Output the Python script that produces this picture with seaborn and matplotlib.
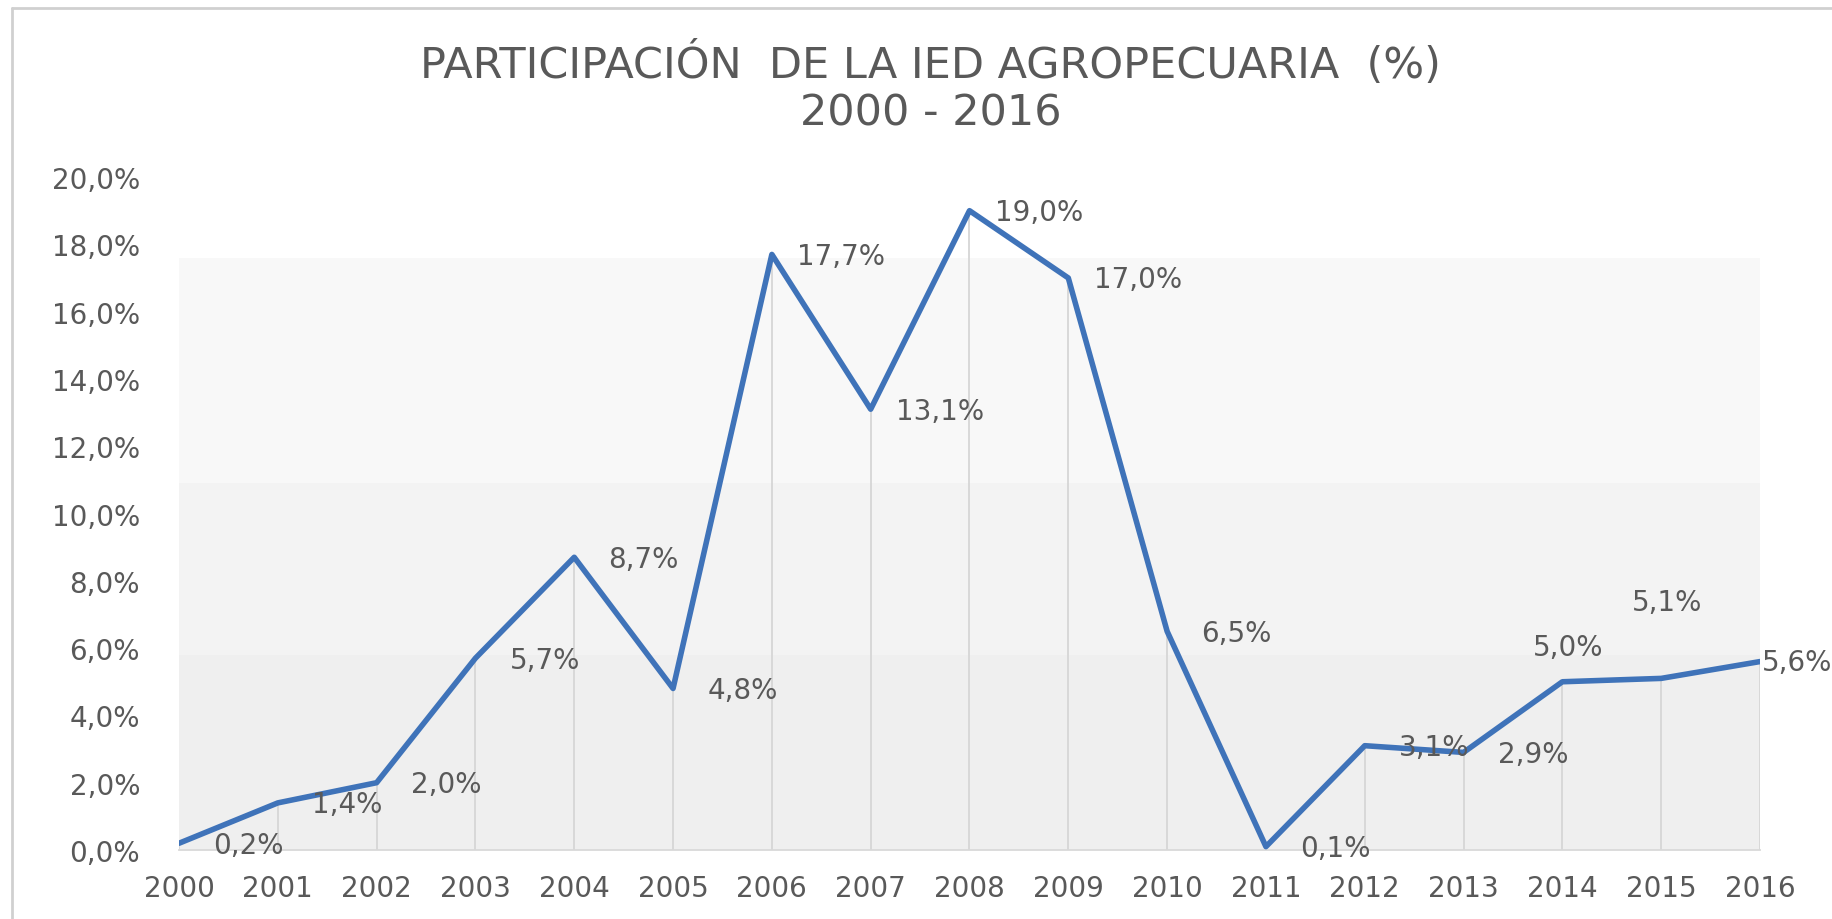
import numpy as np
import pandas as pd
import seaborn as sns
import matplotlib.pyplot as plt
from matplotlib.lines import Line2D

years = [2000, 2001, 2002, 2003, 2004, 2005, 2006, 2007, 2008,
         2009, 2010, 2011, 2012, 2013, 2014, 2015, 2016]
share = [0.2, 1.4, 2.0, 5.7, 8.7, 4.8, 17.7, 13.1, 19.0,
         17.0, 6.5, 0.1, 3.1, 2.9, 5.0, 5.1, 5.6]
title_lines = ["PARTICIPACIÓN  DE LA IED AGROPECUARIA  (%)", "2000 - 2016"]

df = pd.DataFrame({"year": years, "share": share})

sns.set_style("white")
plt.rcParams['font.family'] = ['DejaVu Sans']

txt = "#595959"
blue = "#3f73b9"

fig = plt.figure(figsize=(18.32, 9.2), dpi=100)
ax = fig.add_axes([0.0977, 0.075, 0.8630, 0.7315])

# banded background of the plot area (Excel gradient look)
ax.axhspan(0, 5.8, color="#efefef", zorder=0, lw=0)
ax.axhspan(5.8, 10.9, color="#f3f3f3", zorder=0, lw=0)
ax.axhspan(10.9, 17.6, color="#f8f8f8", zorder=0, lw=0)

# drop lines
ax.vlines(df["year"], 0, df["share"], color="#d6d6d6", lw=1.3, zorder=1)

sns.lineplot(data=df, x="year", y="share", color=blue, lw=4, ax=ax, zorder=3)

# data labels, placed like the original (mostly right of each point)
offsets = {2014: (4, 25, "center"), 2015: (4, 55, "center"), 2016: (1, 0, "left")}
for y, v in zip(years, share):
    dx, dy, ha = offsets.get(y, (50, -1, "center"))
    ax.annotate(f"{v:.1f}%".replace(".", ","), (y, v), xytext=(dx, dy),
                textcoords="offset points", ha=ha, va="center",
                fontsize=20, color=txt, zorder=4, annotation_clip=False)

ax.set_xlim(2000, 2016)
ax.set_ylim(0, 20)
ax.set_xticks(years)
ax.set_xticklabels([str(y) for y in years])
ax.set_yticks(np.arange(0, 21, 2))
ax.set_yticklabels([f"{t:.1f}%".replace(".", ",") for t in np.arange(0, 21, 2)])
ax.tick_params(axis="x", length=0, pad=17, labelsize=20, labelcolor=txt)
ax.tick_params(axis="y", length=0, pad=28, labelsize=20, labelcolor=txt)
ax.set_xlabel("")
ax.set_ylabel("")
ax.grid(False)
for s in ["top", "right", "left"]:
    ax.spines[s].set_visible(False)
ax.spines["bottom"].set_color("#d9d9d9")
ax.spines["bottom"].set_linewidth(1.3)

fig.text(0.508, 0.930, title_lines[0], ha="center", va="center", fontsize=31, color=txt)
fig.text(0.508, 0.877, title_lines[1], ha="center", va="center", fontsize=31, color=txt)

# chart frame (left and top edges visible)
fig.add_artist(Line2D([12 / 1832, 12 / 1832], [0, 1 - 9 / 920], transform=fig.transFigure,
                      color="#d0d0d0", lw=2))
fig.add_artist(Line2D([12 / 1832, 1], [1 - 9 / 920, 1 - 9 / 920], transform=fig.transFigure,
                      color="#d0d0d0", lw=2))

fig.savefig("out.png", dpi=100, facecolor="white")
